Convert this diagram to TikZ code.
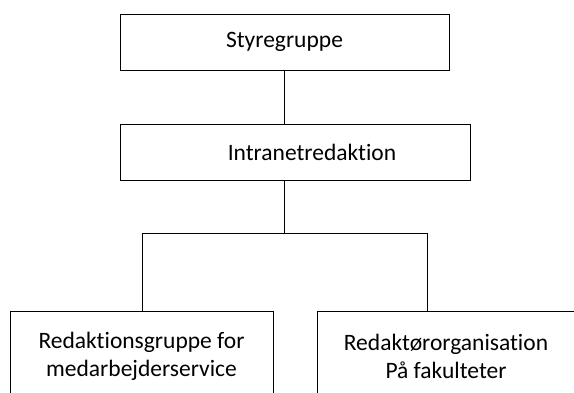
\documentclass[tikz,border=0pt]{standalone}
\usepackage{fontspec}
\setmainfont[Ligatures=NoCommon]{Carlito}
\begin{document}
\begin{tikzpicture}[x=1pt,y=1pt,
  box/.style={draw=black,line width=0.9pt,rectangle,inner sep=0pt,align=center,font=\fontsize{23.5}{28}\selectfont},
  conn/.style={draw=black,line width=0.9pt},
  lbl/.style={inner sep=0pt,align=center,font=\fontsize{23.5}{28}\selectfont}]
\useasboundingbox (0,0) rectangle (574,-392);
\clip (0,0) rectangle (574,-392);
\node[box,minimum width=329,minimum height=56] (sty) at (284.5,-42) {Styregruppe};
\node[box,minimum width=350,minimum height=56] (int) at (295,-152) {};
\node[lbl] (intl) at (312,-152) {Intranetredaktion};
\node[box,minimum width=263,minimum height=90] (red) at (141.5,-356) {Redaktionsgruppe for\\medarbejderservice};
\node[box,minimum width=258,minimum height=90] (org) at (446,-356) {Redaktørorganisation\\På fakulteter};
\coordinate (j) at (284,-233);
\coordinate (jl) at (142,-233);
\coordinate (jr) at (427,-233);
\draw[conn] (sty.south -| j) -- (int.north -| j);
\draw[conn] (int.south -| j) -- (j);
\draw[conn] (jl) -- (jr);
\draw[conn] (jl) -- (jl |- red.north);
\draw[conn] (jr) -- (jr |- org.north);
\end{tikzpicture}
\end{document}
